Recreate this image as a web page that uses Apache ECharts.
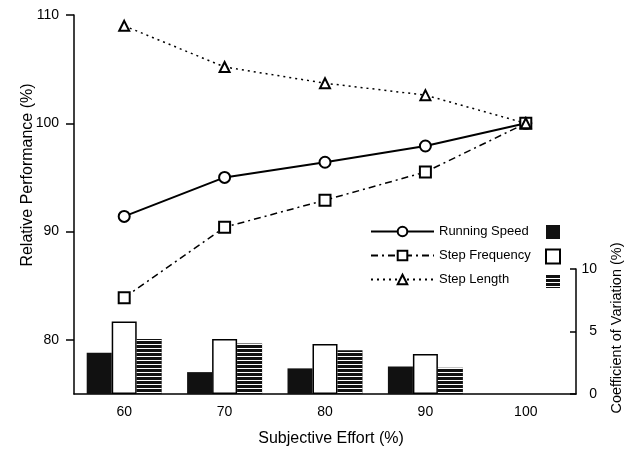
<!DOCTYPE html>
<html>
<head>
<meta charset="utf-8">
<script src="https://cdn.jsdelivr.net/npm/echarts@6/dist/echarts.min.js"></script>
<style>
  html, body { margin: 0; padding: 0; background: #fff; }
  #chart { width: 632px; height: 452px; }
</style>
</head>
<body>
<div id="chart"></div>
<script>
var efforts = ['60', '70', '80', '90', '100'];
// relative performance (%)
var runningSpeed = [91.4, 95.0, 96.4, 97.9, 100];
var stepFrequency = [83.9, 90.4, 92.9, 95.5, 100];
var stepLength = [109.0, 105.2, 103.7, 102.6, 100];
// coefficient of variation (%)
var cvRunningSpeed = [3.3, 1.75, 2.05, 2.2, null];
var cvStepFrequency = [5.8, 4.4, 4.0, 3.2, null];
var cvStepLength = [4.4, 4.05, 3.5, 2.1, null];
var leftTicks = [80, 90, 100, 110];

var font = 'Liberation Sans, Arial, sans-serif';
var myChart = echarts.init(document.getElementById('chart'));

var lineSeries = function (name, data, symbol, size, dash, width) {
    return {
        name: name,
        type: 'line',
        xAxisIndex: 0,
        yAxisIndex: 0,
        data: data,
        symbol: symbol,
        symbolSize: size,
        z: 5,
        lineStyle: { color: '#000', width: width, type: dash },
        itemStyle: { color: '#fff', borderColor: '#000', borderWidth: 2 }
    };
};

option = {
    animation: false,
    textStyle: { fontFamily: font, color: '#000' },
    grid: [
        { left: 74, right: 56, top: 15, bottom: 58 },
        { left: 74, right: 56, top: 269, bottom: 58 }
    ],
    legend: [{
        data: ['Running Speed', 'Step Frequency', 'Step Length'],
        orient: 'vertical',
        left: 370,
        top: 225,
        padding: 0,
        itemWidth: 63,
        itemHeight: 12,
        itemGap: 11,
        textStyle: { fontSize: 13, color: '#000', fontFamily: font }
    }, {
        data: ['Running Speed CV', 'Step Frequency CV', 'Step Length CV'],
        orient: 'vertical',
        left: 545,
        top: 225,
        padding: 0,
        icon: 'rect',
        itemWidth: 14,
        itemHeight: 14,
        itemGap: 9.5,
        formatter: function () { return ''; }
    }],
    xAxis: [{
        type: 'category',
        gridIndex: 0,
        data: efforts,
        show: false
    }, {
        type: 'category',
        gridIndex: 1,
        data: efforts,
        axisLine: { lineStyle: { color: '#000', width: 1.5 } },
        axisTick: { inside: true, alignWithLabel: true, length: 6, lineStyle: { color: '#000', width: 1.5 } },
        axisLabel: { fontSize: 14, color: '#000', margin: 11, fontFamily: font }
    }],
    yAxis: [{
        type: 'value',
        gridIndex: 0,
        min: 75,
        max: 110,
        splitLine: { show: false },
        axisLine: { show: true, lineStyle: { color: '#000', width: 1.5 } },
        axisTick: { show: true, inside: false, length: 8, customValues: leftTicks, lineStyle: { color: '#000', width: 1.5 } },
        axisLabel: { fontSize: 14, color: '#000', margin: 15, customValues: leftTicks, fontFamily: font }
    }, {
        type: 'value',
        gridIndex: 1,
        position: 'right',
        min: 0,
        max: 10,
        interval: 5,
        splitLine: { show: false },
        axisLine: { show: true, lineStyle: { color: '#000', width: 1.5 } },
        axisTick: { show: true, inside: true, length: 6, lineStyle: { color: '#000', width: 1.5 } },
        axisLabel: { fontSize: 14, color: '#000', margin: 21, align: 'right', fontFamily: font }
    }],
    graphic: [{
        type: 'text',
        x: 28, y: 175,
        rotation: Math.PI / 2,
        style: { text: 'Relative Performance (%)', font: '16px ' + font, fill: '#000', align: 'center', verticalAlign: 'middle' }
    }, {
        type: 'text',
        x: 617, y: 328,
        rotation: Math.PI / 2,
        style: { text: 'Coefficient of Variation (%)', font: '14.5px ' + font, fill: '#000', align: 'center', verticalAlign: 'middle' }
    }, {
        type: 'text',
        x: 331, y: 439,
        style: { text: 'Subjective Effort (%)', font: '16px ' + font, fill: '#000', align: 'center', verticalAlign: 'middle' }
    }],
    series: [
        {
            name: 'Running Speed CV',
            type: 'bar',
            xAxisIndex: 1,
            yAxisIndex: 1,
            data: cvRunningSpeed,
            barWidth: 25,
            barGap: '0%',
            itemStyle: { color: '#111' }
        },
        {
            name: 'Step Frequency CV',
            type: 'bar',
            xAxisIndex: 1,
            yAxisIndex: 1,
            data: cvStepFrequency,
            barWidth: 25,
            barGap: '0%',
            itemStyle: { color: '#fff', borderColor: '#000', borderWidth: 1.5 }
        },
        {
            name: 'Step Length CV',
            type: 'bar',
            xAxisIndex: 1,
            yAxisIndex: 1,
            data: cvStepLength,
            barWidth: 25,
            barGap: '0%',
            itemStyle: {
                color: '#111',
                decal: { symbol: 'rect', symbolSize: 1, dashArrayX: [1, 0], dashArrayY: [1, 3], color: '#fff', rotation: 0 }
            }
        },
        lineSeries('Running Speed', runningSpeed, 'circle', 11, 'solid', 2),
        lineSeries('Step Frequency', stepFrequency, 'rect', 11, [7, 4, 2, 4], 1.5),
        lineSeries('Step Length', stepLength, 'triangle', 10, [2, 4], 1.5)
    ]
};

myChart.setOption(option, true);
</script>
</body>
</html>
